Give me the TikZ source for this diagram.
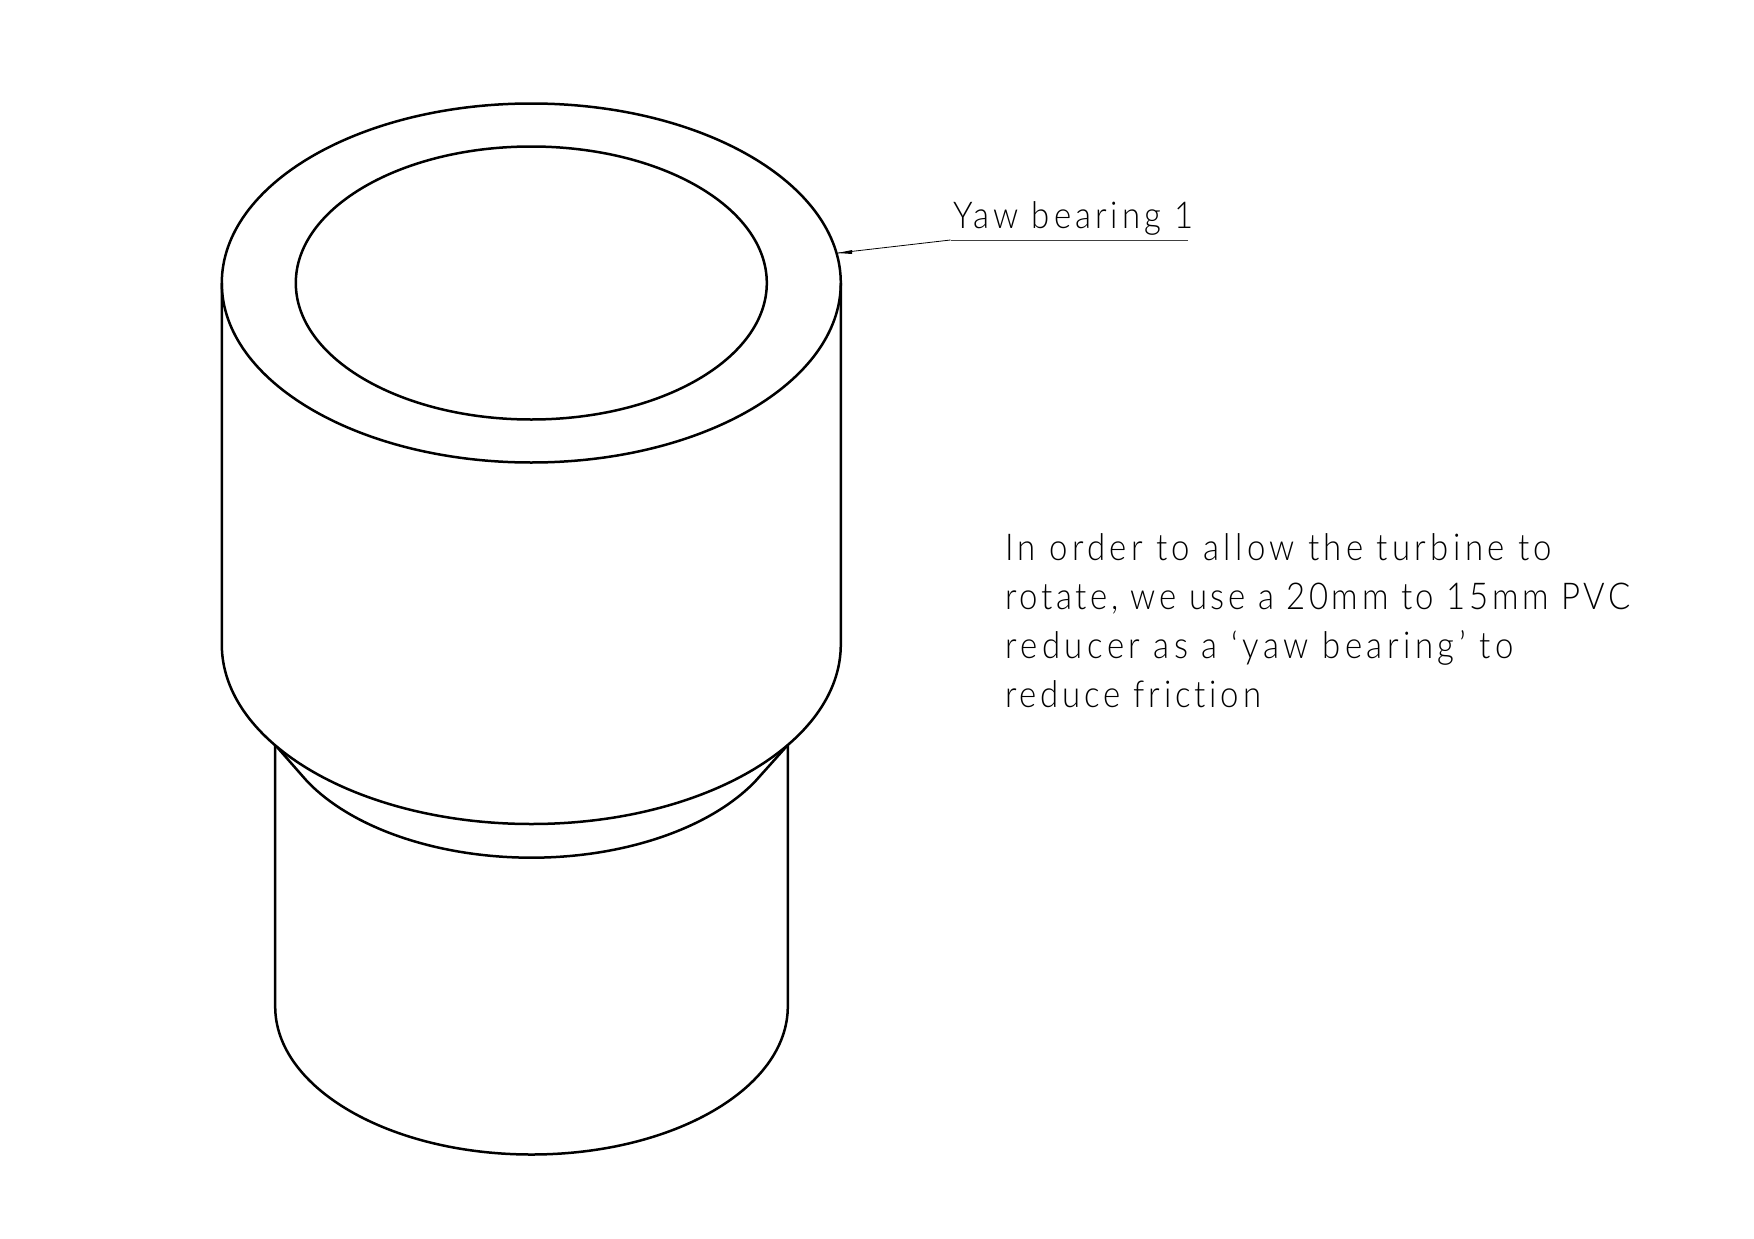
\documentclass[tikz,border=0pt]{standalone}
\usepackage{fontspec}
\setmainfont[FakeStretch=0.89,Ligatures=NoCommon]{Lato Light}
\newcommand{\trk}[2]{{\addfontfeature{LetterSpace=#1}#2}}
\tikzset{
  body/.style={line width=2.5pt,black},
  leader/.style={line width=1pt,black!75},
  note/.style={inner sep=0pt,anchor=base west,font=\fontsize{37}{49}\selectfont,black}
}
\begin{document}
\begin{tikzpicture}[x=1pt,y=-1pt]
\useasboundingbox (0,0) rectangle (1754,1239);
\fill[white] (0,0) rectangle (1754,1239);
\coordinate (outerc) at (531.3,283);
% lower cylinder
\draw[body] (275.2,745) -- (275.2,1006.5) arc[start angle=180,end angle=0,x radius=256.3,y radius=148] -- (787.8,745);
% shoulder
\draw[body] (275.2,745) -- (307.3,781.5) arc[start angle=150.8,end angle=29.2,x radius=256.5,y radius=148.7] -- (787.8,745);
% upper cylinder
\draw[body,fill=white] (221.8,283) -- (221.8,644.5) arc[start angle=180,end angle=0,x radius=309.5,y radius=179.5] -- (840.8,283);
\draw[body] (outerc) ellipse[x radius=309.5,y radius=179.5];
\draw[body] (outerc) ellipse[x radius=235.5,y radius=136.5];
% label
\node[note] (lab) at (953.5,228) {\trk{10.9}{Yaw bearing 1}};
\coordinate (la) at (950.5,240);
\coordinate (lb) at (1188,240);
\coordinate (tip) at (838,253);
\draw[leader] (lb) -- (la);
\draw[line width=.8pt,black] (la) -- (tip);
\fill[black] (tip) -- (852,250) -- (852,254) -- cycle;
\node[note,align=left,anchor=north west] (txt) at (1005,533) {\trk{11.8}{In order to allow the turbine to}\\\trk{9.7}{rotate, we use a 20mm to 15mm PVC}\\\trk{12.2}{reducer as a ‘yaw bearing’ to}\\\trk{10.3}{reduce friction}};
\end{tikzpicture}
\end{document}
